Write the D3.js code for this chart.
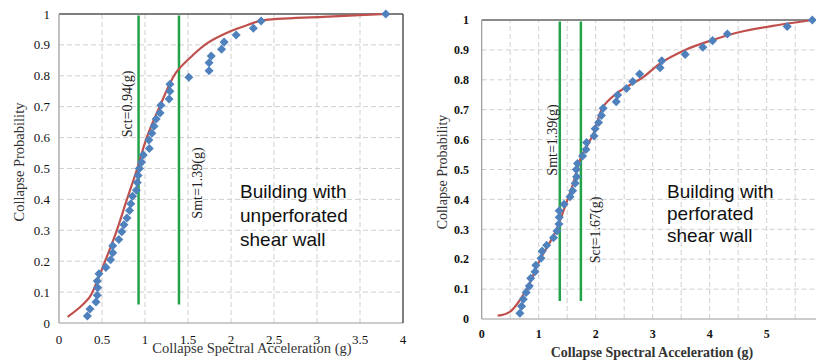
<!DOCTYPE html>
<html>
<head>
<meta charset="utf-8">
<script src="https://cdn.jsdelivr.net/npm/d3@7"></script>
<style>
  body { margin: 0; background: #fff; }
  svg { display: block; }
</style>
</head>
<body>
<div id="chart"></div>
<script>
// Tick labels
const yTicks = [0, 0.1, 0.2, 0.3, 0.4, 0.5, 0.6, 0.7, 0.8, 0.9, 1];
const leftXTicks = [0, 0.5, 1, 1.5, 2, 2.5, 3, 3.5, 4];
const rightXTicks = [0, 1, 2, 3, 4, 5];

// Left panel: unperforated shear wall - empirical points
const leftPointsX = [0.33, 0.36, 0.43, 0.445, 0.45, 0.445, 0.465, 0.545, 0.60, 0.625, 0.625,
  0.695, 0.73, 0.755, 0.79, 0.82, 0.835, 0.855, 0.90, 0.91, 0.92, 0.935, 0.96, 0.98, 1.05,
  1.045, 1.08, 1.105, 1.13, 1.175, 1.185, 1.28, 1.29, 1.29, 1.51, 1.745, 1.745, 1.77, 1.89,
  1.92, 2.06, 2.26, 2.35, 3.80];
const leftPointsY = [0.023, 0.045, 0.068, 0.09, 0.114, 0.136, 0.159, 0.18, 0.205, 0.227, 0.25,
  0.27, 0.295, 0.318, 0.34, 0.364, 0.386, 0.41, 0.43, 0.455, 0.477, 0.50, 0.52, 0.544, 0.565,
  0.592, 0.614, 0.637, 0.66, 0.68, 0.705, 0.725, 0.75, 0.773, 0.795, 0.816, 0.842, 0.864, 0.886,
  0.909, 0.932, 0.954, 0.977, 1.0];
// Left panel fitted curve
const leftCurveX = [0.10, 0.24, 0.36, 0.45, 0.55, 0.66, 0.79, 0.91, 1.02, 1.17, 1.36, 1.55, 1.72, 2.0, 2.2, 2.36, 3.07, 3.81];
const leftCurveY = [0.02, 0.05, 0.085, 0.14, 0.21, 0.29, 0.40, 0.50, 0.60, 0.70, 0.81, 0.865, 0.905, 0.945, 0.965, 0.979, 0.991, 1.0];

// Right panel: perforated shear wall - empirical points
const rightPointsX = [0.67, 0.70, 0.73, 0.78, 0.835, 0.86, 0.935, 0.95, 1.04, 1.06, 1.14,
  1.26, 1.32, 1.355, 1.36, 1.36, 1.445, 1.55, 1.595, 1.64, 1.665, 1.66, 1.68, 1.77, 1.83,
  1.84, 1.97, 1.99, 2.05, 2.10, 2.13, 2.36, 2.385, 2.54, 2.65, 2.77, 3.13, 3.16, 3.57,
  3.88, 4.05, 4.31, 5.36, 5.80];
const rightPointsY = [0.019, 0.043, 0.066, 0.089, 0.11, 0.136, 0.158, 0.18, 0.203, 0.227, 0.247,
  0.272, 0.294, 0.318, 0.34, 0.362, 0.384, 0.409, 0.429, 0.454, 0.476, 0.50, 0.52, 0.545, 0.567,
  0.59, 0.612, 0.636, 0.657, 0.681, 0.705, 0.727, 0.749, 0.771, 0.794, 0.819, 0.84, 0.864, 0.885,
  0.909, 0.931, 0.953, 0.978, 1.0];
// Right panel fitted curve
const rightCurveX = [0.28, 0.5, 0.79, 1.02, 1.29, 1.45, 1.60, 1.72, 1.96, 2.13, 2.37, 2.84, 3.13, 3.57, 4.0, 4.53, 5.23, 5.8];
const rightCurveY = [0.011, 0.025, 0.10, 0.197, 0.29, 0.37, 0.45, 0.53, 0.62, 0.71, 0.755, 0.81, 0.855, 0.90, 0.93, 0.96, 0.984, 1.0];

// Vertical marker lines (position, label)
const leftMarkers = [{ x: 0.925, label: "Sct=0.94(g)" }, { x: 1.395, label: "Smt=1.39(g)" }];
const rightMarkers = [{ x: 1.37, label: "Smt=1.39(g)" }, { x: 1.74, label: "Sct=1.67(g)" }];

const width = 816, height = 360;
const svg = d3.select("#chart").append("svg")
  .attr("width", width)
  .attr("height", height);

function drawPanel(o) {
  const x = d3.scaleLinear().domain(o.xDomain).range([o.left, o.right]);
  const y = d3.scaleLinear().domain([0, 1]).range([o.bottom, o.top]);
  const g = svg.append("g");

  // grid
  g.append("g")
    .selectAll("line")
    .data(o.xGrid)
    .join("line")
    .attr("x1", d => x(d)).attr("x2", d => x(d))
    .attr("y1", y(0)).attr("y2", y(1))
    .attr("stroke", "#cfcfcf")
    .attr("stroke-dasharray", "5,3");
  g.append("g")
    .selectAll("line")
    .data(yTicks.slice(1, -1))
    .join("line")
    .attr("x1", o.left).attr("x2", o.right)
    .attr("y1", d => y(d)).attr("y2", d => y(d))
    .attr("stroke", "#cfcfcf")
    .attr("stroke-dasharray", "5,3");

  // frame
  g.append("line").attr("x1", o.left).attr("x2", o.right).attr("y1", y(1)).attr("y2", y(1))
    .attr("stroke", o.topColor).attr("stroke-width", o.topWidth);
  g.append("line").attr("x1", o.left).attr("x2", o.right).attr("y1", y(0)).attr("y2", y(0))
    .attr("stroke", "#9a9a9a").attr("stroke-width", 1.2);
  g.append("line").attr("x1", o.left).attr("x2", o.left).attr("y1", y(0)).attr("y2", y(1))
    .attr("stroke", "#9a9a9a").attr("stroke-width", 1.2);
  if (o.rightBorder) {
    g.append("line").attr("x1", o.right).attr("x2", o.right).attr("y1", y(0)).attr("y2", y(1))
      .attr("stroke", "#555").attr("stroke-width", 1.5);
  }

  // tick labels
  g.append("g")
    .selectAll("text")
    .data(yTicks)
    .join("text")
    .attr("x", o.yLabelX)
    .attr("y", d => y(d))
    .attr("dy", "0.35em")
    .attr("text-anchor", "end")
    .attr("font-family", "Liberation Serif")
    .attr("font-size", o.tickSize)
    .attr("font-weight", o.tickWeight)
    .attr("fill", "#111")
    .text(d => d);
  g.append("g")
    .selectAll("text")
    .data(o.xTicks)
    .join("text")
    .attr("x", d => x(d))
    .attr("y", o.xLabelY)
    .attr("text-anchor", "middle")
    .attr("font-family", "Liberation Serif")
    .attr("font-size", o.tickSize)
    .attr("font-weight", o.tickWeight)
    .attr("fill", "#111")
    .text(d => d);

  // axis titles
  g.append("text")
    .attr("x", o.xTitleX).attr("y", o.xTitleY)
    .attr("text-anchor", "middle")
    .attr("font-family", "Liberation Serif")
    .attr("font-size", o.titleSize)
    .attr("font-weight", o.tickWeight)
    .attr("fill", "#333")
    .text("Collapse Spectral Acceleration (g)");
  g.append("text")
    .attr("transform", `translate(${o.yTitleX},${o.yTitleY}) rotate(-90)`)
    .attr("text-anchor", "middle")
    .attr("dy", "0.35em")
    .attr("font-family", "Liberation Serif")
    .attr("font-size", o.titleSize)
    .attr("fill", "#333")
    .text("Collapse Probability");

  // green markers
  g.append("g")
    .selectAll("line")
    .data(o.markers)
    .join("line")
    .attr("x1", d => x(d.x)).attr("x2", d => x(d.x))
    .attr("y1", y(0.995)).attr("y2", y(0.06))
    .attr("stroke", "#22a34a")
    .attr("stroke-width", 2.5);
  g.append("g")
    .selectAll("text")
    .data(o.markers)
    .join("text")
    .attr("transform", (d, i) => `translate(${o.markerLabelX[i]},${o.markerLabelY[i]}) rotate(-90)`)
    .attr("text-anchor", "middle")
    .attr("dy", "0.35em")
    .attr("font-family", "Liberation Serif")
    .attr("font-size", 14)
    .attr("fill", "#222")
    .text(d => d.label);

  // fitted curve
  const line = d3.line()
    .x(d => x(d[0]))
    .y(d => y(d[1]))
    .curve(d3.curveCatmullRom);
  g.append("path")
    .datum(d3.zip(o.curveX, o.curveY))
    .attr("fill", "none")
    .attr("stroke", "#c0504d")
    .attr("stroke-width", 2.2)
    .attr("d", line);

  // points
  g.append("g")
    .selectAll("path")
    .data(d3.zip(o.pointsX, o.pointsY))
    .join("path")
    .attr("transform", d => `translate(${x(d[0])},${y(d[1])})`)
    .attr("d", d3.symbol().type(d3.symbolDiamond2).size(52))
    .attr("fill", "#4f81bd");

  // annotation
  g.append("text")
    .attr("font-family", "Liberation Sans")
    .attr("font-size", 19)
    .attr("fill", "#111")
    .selectAll("tspan")
    .data(o.note)
    .join("tspan")
    .attr("x", o.noteX)
    .attr("y", (d, i) => o.noteY + i * o.noteStep)
    .text(d => d);
}

drawPanel({
  xDomain: [0, 4], left: 59, right: 403, top: 14, bottom: 323,
  xGrid: [0.5, 1, 1.5, 2, 2.5, 3, 3.5], xTicks: leftXTicks,
  topColor: "#555", topWidth: 1.5, rightBorder: true,
  yLabelX: 50, xLabelY: 344, tickSize: 13, tickWeight: "normal",
  titleSize: 14.5, xTitleX: 252, xTitleY: 353, yTitleX: 19, yTitleY: 162,
  markers: leftMarkers, markerLabelX: [127, 197], markerLabelY: [104, 183],
  curveX: leftCurveX, curveY: leftCurveY, pointsX: leftPointsX, pointsY: leftPointsY,
  note: ["Building with", "unperforated", "shear wall"], noteX: 240, noteY: 198, noteStep: 24
});

drawPanel({
  xDomain: [0, 6], left: 481.7, right: 823.7, top: 20, bottom: 319,
  xGrid: [0.5, 1, 1.5, 2, 2.5, 3, 3.5, 4, 4.5, 5, 5.5], xTicks: rightXTicks,
  topColor: "#8a8a8a", topWidth: 2, rightBorder: false,
  yLabelX: 469, xLabelY: 338, tickSize: 12, tickWeight: "bold",
  titleSize: 14, xTitleX: 652, xTitleY: 357, yTitleX: 442, yTitleY: 172,
  markers: rightMarkers, markerLabelX: [552, 595], markerLabelY: [140, 230],
  curveX: rightCurveX, curveY: rightCurveY, pointsX: rightPointsX, pointsY: rightPointsY,
  note: ["Building with", "perforated", "shear wall"], noteX: 667, noteY: 198, noteStep: 22
});
</script>
</body>
</html>
